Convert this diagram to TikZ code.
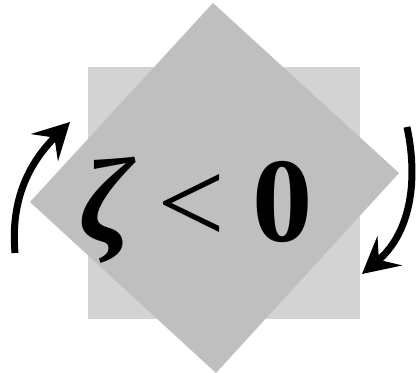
\documentclass[tikz,border=0pt]{standalone}
\usepackage{fontspec}
\setmainfont{Liberation Serif}
\usetikzlibrary{arrows.meta}
\definecolor{lightsq}{RGB}{211,211,211}
\definecolor{darksq}{RGB}{191,191,191}
\tikzset{
  bigtxt/.style={inner sep=0pt, anchor=base, font=\fontsize{121}{121}\selectfont},
  rotarrow/.style={line width=7bp, -{Stealth[length=36bp,width=38bp,inset=14bp]}}
}
\begin{document}
\begin{tikzpicture}[x=1bp,y=-1bp]
\useasboundingbox (0,0) rectangle (416,373);
\fill[lightsq] (88,67) rectangle (360,319);
\fill[darksq] (213,3) -- (399,173) -- (216,373) -- (30,202) -- cycle;
\node[bigtxt] (zeta) at (106,241) {\bfseries\itshape ζ};
\node[bigtxt] (lt) at (191,243) {<};
\node[bigtxt] (zero) at (283,241) {\bfseries 0};
\coordinate (la) at (15,253);
\coordinate (lb) at (70,122);
\coordinate (ra) at (407,127);
\coordinate (rb) at (362,274);
\draw[rotarrow] (la) to[out=95,in=225] (lb);
\draw[rotarrow] (ra) to[out=-78,in=40] (rb);
\end{tikzpicture}
\end{document}
